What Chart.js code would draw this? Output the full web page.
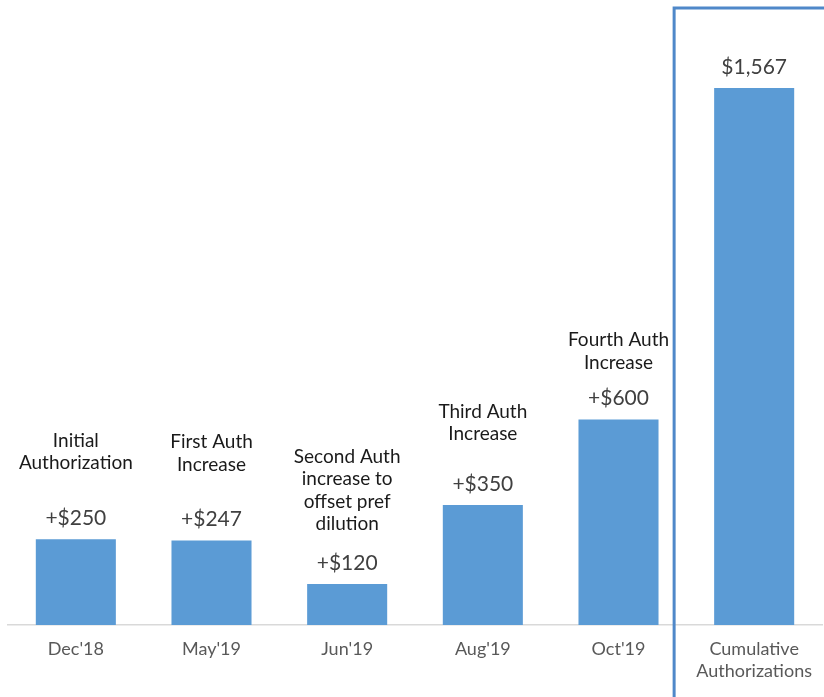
<!DOCTYPE html>
<html>
<head>
<meta charset="utf-8">
<script src="https://cdn.jsdelivr.net/npm/chart.js@4"></script>
<style>
  html, body { margin: 0; padding: 0; background: #fff; }
  #wrap { width: 824px; height: 697px; position: relative; }
</style>
</head>
<body>
<div id="wrap"><canvas id="barChart"></canvas></div>
<script>
const categories = ["Dec'18", "May'19", "Jun'19", "Aug'19", "Oct'19", ['Cumulative', 'Authorizations']];
const values = [250, 247, 120, 350, 600, 1567];
const valueLabels = ['+$250', '+$247', '+$120', '+$350', '+$600', '$1,567'];
const notes = [
  ['Initial', 'Authorization'],
  ['First Auth', 'Increase'],
  ['Second Auth', 'increase to', 'offset pref', 'dilution'],
  ['Third Auth', 'Increase'],
  ['Fourth Auth', 'Increase'],
  [],
];

// gap between value label and the note above it (px), varies in the original
const noteGaps = [55, 55, 39, 50, 36, 0];
const FONT = 'Lato, "Open Sans", sans-serif';

// value labels + notes above each bar, and the frame round the total
const labelPlugin = {
  id: 'barLabels',
  afterDatasetsDraw(chart) {
    let ctx = chart.ctx;
    let bars = chart.getDatasetMeta(0).data;
    ctx.save();
    ctx.textAlign = 'center';
    ctx.textBaseline = 'middle';
    bars.forEach((bar, i) => {
      let valueY = bar.y - 21;
      ctx.font = '21px ' + FONT;
      ctx.fillStyle = '#404040';
      ctx.fillText(valueLabels[i], bar.x, valueY);

      ctx.font = '19px ' + FONT;
      ctx.fillStyle = '#1a1a1a';
      let lines = notes[i];
      for (let j = 0; j < lines.length; j++) {
        let y = valueY - noteGaps[i] - (lines.length - 1 - j) * 22.5;
        ctx.fillText(lines[j], bar.x, y);
      }
    });

    // frame round the last category
    let last = bars[bars.length - 1];
    let left = last.x - last.width;
    ctx.strokeStyle = '#4f88c9';
    ctx.lineWidth = 3;
    ctx.strokeRect(left, chart.chartArea.top, chart.width, chart.height);
    ctx.restore();
  },
};

let ctxB = document.getElementById('barChart').getContext('2d');
let myBarChart = new Chart(ctxB, {
  type: 'bar',
  data: {
    labels: categories,
    datasets: [
      {
        data: values,
        backgroundColor: '#5b9bd5',
        borderWidth: 0,
        categoryPercentage: 1,
        barPercentage: 0.59,
      },
    ],
  },
  options: {
    responsive: true,
    maintainAspectRatio: false,
    animation: false,
    layout: { padding: { left: 8, right: 2, top: 8, bottom: 10 } },
    plugins: {
      legend: { display: false },
      tooltip: { enabled: false },
    },
    scales: {
      x: {
        grid: { display: false },
        border: { display: true, color: '#d9d9d9', width: 1.5 },
        ticks: {
          color: '#595959',
          font: { family: FONT, size: 18, lineHeight: 1.22 },
          padding: 5,
          maxRotation: 0,
          autoSkip: false,
        },
      },
      y: {
        display: false,
        min: 0,
        max: 1800,
      },
    },
  },
  plugins: [labelPlugin],
});
</script>
</body>
</html>
